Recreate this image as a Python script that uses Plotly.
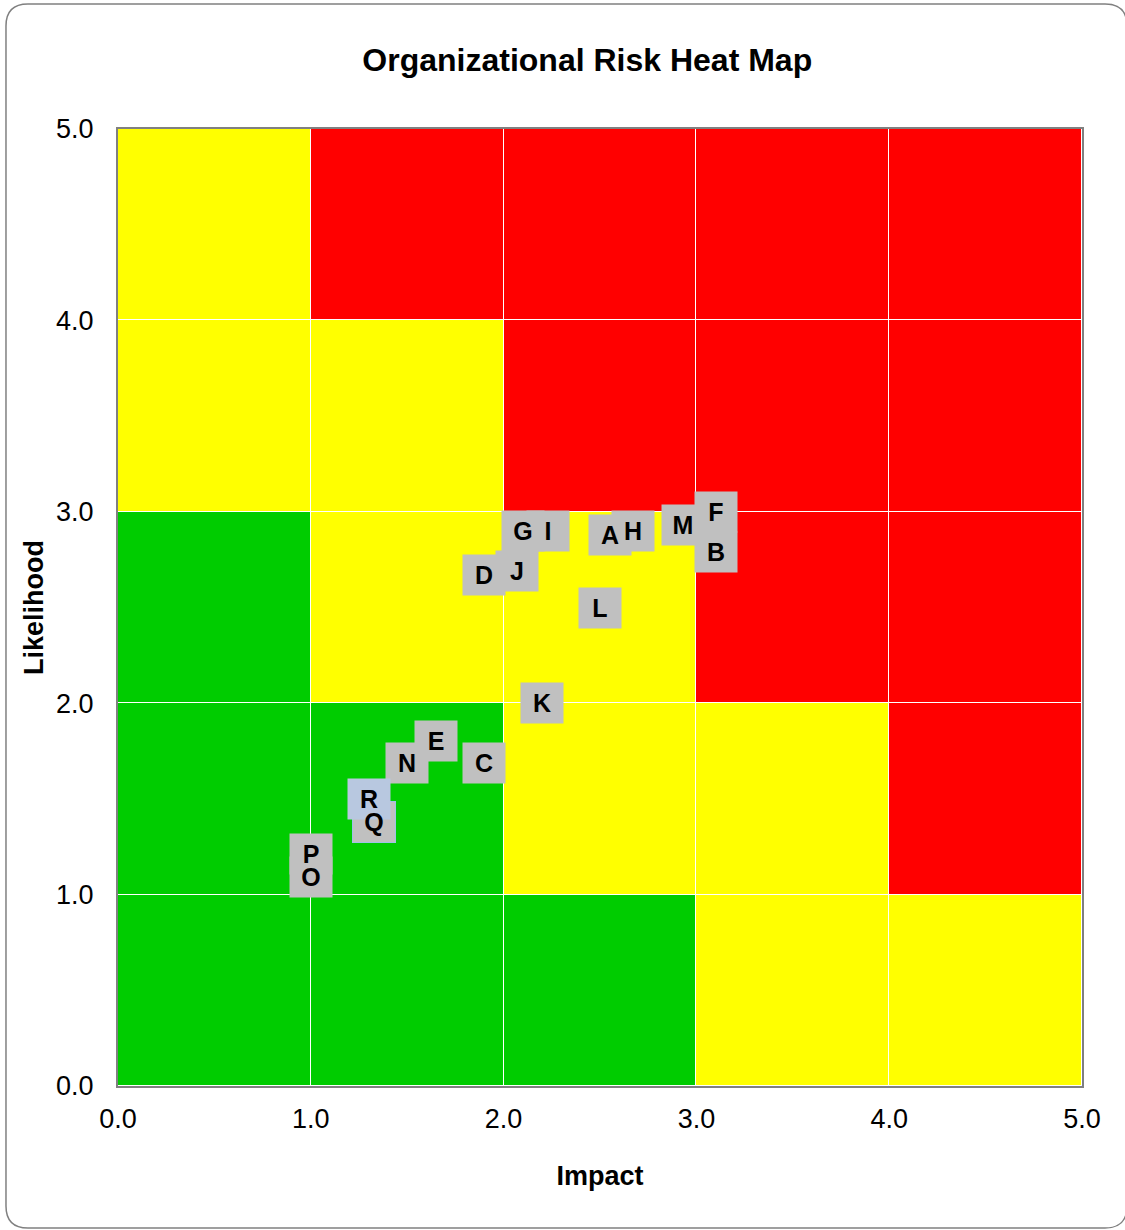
import plotly.graph_objects as go

# Risk zone grid (rows = likelihood 0-1 .. 4-5, cols = impact 0-1 .. 4-5); 0=green,1=yellow,2=red
cell_centers = [0.5, 1.5, 2.5, 3.5, 4.5]
zone_levels = [
    [0, 0, 0, 1, 1],
    [0, 0, 1, 1, 2],
    [0, 1, 1, 2, 2],
    [1, 1, 2, 2, 2],
    [1, 2, 2, 2, 2],
]
zone_colors = ["#00CC00", "#FFFF00", "#FF0000"]

# Risks
risk_labels = ["A", "B", "C", "D", "E", "F", "G", "H", "I", "J", "K", "L", "M", "N", "O", "P", "Q", "R"]
risk_impact = [2.55, 3.10, 1.90, 1.90, 1.65, 3.10, 2.10, 2.67, 2.23, 2.07, 2.20, 2.50, 2.93, 1.50, 1.00, 1.00, 1.33, 1.30]
risk_likelihood = [2.88, 2.79, 1.69, 2.67, 1.80, 3.00, 2.90, 2.90, 2.90, 2.69, 2.00, 2.50, 2.93, 1.69, 1.09, 1.21, 1.38, 1.50]

ticks = [0, 1, 2, 3, 4, 5]
FONT = "Liberation Sans, Arial"

fig = go.Figure()
cs = [[0.0, zone_colors[0]], [0.3333, zone_colors[0]], [0.3334, zone_colors[1]],
      [0.6666, zone_colors[1]], [0.6667, zone_colors[2]], [1.0, zone_colors[2]]]
fig.add_trace(go.Heatmap(x=cell_centers, y=cell_centers, z=zone_levels, zmin=0, zmax=2,
                         colorscale=cs, showscale=False, xgap=1, ygap=1, hoverinfo="skip"))
fig.add_trace(go.Scatter(x=risk_impact, y=risk_likelihood, mode="markers",
                         marker=dict(size=1, color="rgba(0,0,0,0)"), text=risk_labels,
                         hoverinfo="text", showlegend=False))

# pass 1: label boxes
for lab, xi, yi in zip(risk_labels, risk_impact, risk_likelihood):
    fig.add_annotation(x=xi, y=yi, xref="x", yref="y", text=" ", showarrow=False,
                       font=dict(family=FONT, size=25),
                       bgcolor="#B8C8E0" if lab == "R" else "#C0C0C0",
                       bordercolor="#9DC3E6" if lab == "Q" else "rgba(0,0,0,0)", borderwidth=1,
                       width=40, height=38)
# pass 2: label texts on top
for lab, xi, yi in zip(risk_labels, risk_impact, risk_likelihood):
    fig.add_annotation(x=xi, y=yi, xref="x", yref="y", text="<b>%s</b>" % lab, showarrow=False,
                       font=dict(family=FONT, size=25, color="black"),
                       width=40, height=38, align="center", valign="middle")

# Rounded outer frame (paper coords)
L, R, T, B = -0.1162, 1.0467, 1.1306, -0.1484
rx, ry = 0.0228, 0.023
path = (f"M {L+rx},{T} L {R-rx},{T} Q {R},{T} {R},{T-ry} L {R},{B+ry} Q {R},{B} {R-rx},{B} "
        f"L {L+rx},{B} Q {L},{B} {L},{B+ry} L {L},{T-ry} Q {L},{T} {L+rx},{T} Z")
fig.add_shape(type="path", path=path, xref="paper", yref="paper",
              line=dict(color="#808080", width=1.5), layer="below")

axis_common = dict(range=[0, 5], tickvals=ticks, tickformat=".1f", showgrid=False, zeroline=False,
                   showline=True, linecolor="#808080", linewidth=2, mirror=True,
                   ticks="", tickfont=dict(family=FONT, size=27, color="black"))

fig.update_layout(
    width=1125, height=1230,
    margin=dict(l=118, r=43, t=129, b=144),
    paper_bgcolor="white", plot_bgcolor="white",
    title=dict(text="<b>Organizational Risk Heat Map</b>", x=0.522, xanchor="center",
               y=1 - 60 / 1230, yanchor="middle",
               font=dict(family=FONT, size=32, color="black")),
    xaxis=dict(axis_common, ticklabelstandoff=8,
               title=dict(text="<b>Impact</b>", standoff=33, font=dict(family=FONT, size=27, color="black"))),
    yaxis=dict(axis_common, ticklabelstandoff=17,
               title=dict(text="<b>Likelihood</b>", standoff=5, font=dict(family=FONT, size=27, color="black"))),
    showlegend=False,
)

fig.write_html("out.html", config={"displayModeBar": False},
               post_script="document.body.style.margin='0';")
